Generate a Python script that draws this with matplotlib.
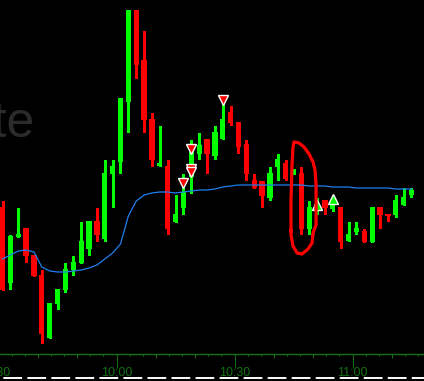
import matplotlib
matplotlib.use("Agg")
import matplotlib.pyplot as plt
import numpy as np

plt.rcParams['lines.scale_dashes'] = False

# 2-minute bars, time in minutes after 9:00
bar_start = 31
bar_step = 2

opens = [11.93, 11.17, 11.63, 11.72, 11.45, 11.25, 10.62, 10.96, 11.10, 11.30,
         11.37, 11.51, 11.79, 11.61, 12.26, 12.38, 12.98, 13.90, 13.40, 12.81,
         12.34, 12.34, 11.78, 11.92, 12.23, 12.46, 12.61, 12.44, 12.61, 12.88,
         12.78, 12.56, 12.20, 12.19, 12.02, 12.33, 12.37, 12.26, 12.27, 11.71,
         11.91, 12.00, 11.91, 11.93, 11.59, 11.68, 11.69, 11.58, 11.93, 11.86,
         11.85, 11.95, 12.05]
highs = [11.99, 11.65, 11.92, 11.72, 11.45, 11.30, 10.97, 11.11, 11.37, 11.44,
         11.78, 11.79, 11.92, 12.40, 12.40, 13.02, 13.90, 13.90, 13.69, 12.87,
         12.74, 12.40, 12.05, 12.26, 12.60, 12.67, 12.61, 12.74, 12.96, 12.94,
         12.78, 12.60, 12.26, 12.19, 12.33, 12.46, 12.40, 12.31, 12.33, 11.99,
         12.02, 12.00, 11.97, 11.93, 11.78, 11.78, 11.71, 11.93, 11.93, 11.86,
         12.05, 12.12, 12.12]
lows = [11.10, 11.11, 11.63, 11.38, 11.24, 10.57, 10.62, 10.91, 11.08, 11.25,
        11.37, 11.45, 11.59, 11.59, 11.93, 12.27, 12.68, 13.22, 12.68, 12.34,
        12.34, 11.66, 11.78, 11.86, 12.07, 12.41, 12.27, 12.41, 12.61, 12.75,
        12.47, 12.20, 12.12, 11.93, 12.00, 12.20, 12.20, 12.26, 11.66, 11.66,
        11.86, 11.86, 11.89, 11.52, 11.59, 11.66, 11.58, 11.58, 11.72, 11.79,
        11.83, 11.95, 12.03]
closes = [11.10, 11.64, 11.66, 11.44, 11.24, 10.66, 10.97, 11.11, 11.31, 11.38,
          11.59, 11.79, 11.65, 12.27, 12.34, 13.02, 13.90, 13.35, 12.80, 12.40,
          12.37, 11.71, 11.86, 12.08, 12.48, 12.55, 12.46, 12.68, 12.81, 12.77,
          12.53, 12.26, 12.12, 12.04, 12.27, 12.41, 12.21, 12.31, 11.71, 11.93,
          11.96, 11.92, 11.97, 11.58, 11.66, 11.72, 11.58, 11.93, 11.85, 11.84,
          12.00, 12.03, 12.10]
moving_avg = [11.41, 11.45, 11.49, 11.50, 11.48, 11.33, 11.29, 11.28, 11.28, 11.29,
              11.30, 11.32, 11.35, 11.41, 11.47, 11.56, 11.84, 11.99, 12.05, 12.07,
              12.08, 12.08, 12.07, 12.08, 12.09, 12.10, 12.10, 12.11, 12.13, 12.14,
              12.15, 12.15, 12.15, 12.15, 12.15, 12.15, 12.15, 12.15, 12.15, 12.14,
              12.14, 12.14, 12.13, 12.13, 12.13, 12.12, 12.12, 12.12, 12.12, 12.12,
              12.11, 12.11, 12.11]

# signal arrows: (time, price)
sell_times = [87, 79, 79, 79, 77]
sell_prices = [13.00, 12.51, 12.31, 12.28, 12.17]
buy_times = [111, 115]
buy_prices = [11.955, 12.015]

# hand drawn circle around the 10:43 drop
circle_t = [104.36, 104.36, 104.62, 104.87, 105.13, 106.40, 107.67, 108.95, 109.96,
            110.47, 110.73, 110.73, 109.96, 109.71, 108.69, 107.16, 105.89, 104.87,
            104.36, 104.36]
circle_p = [11.68, 12.00, 12.35, 12.53, 12.58, 12.57, 12.53, 12.46, 12.38,
            12.30, 12.15, 11.75, 11.67, 11.57, 11.51, 11.46, 11.47, 11.54,
            11.65, 11.70]

tick_times = [30, 60, 90, 120]
tick_labels = ['9:30', '10:00', '10:30', '11:00']

GREEN = '#00ff00'
RED = '#ff0000'
AXIS_GREEN = '#136d13'

fig = plt.figure(figsize=(4.24, 3.81), dpi=100, facecolor='black')
ax = fig.add_axes([0, 0, 1, 1], facecolor='black')
ax.set_xlim(30.36, 138.18)
ax.set_ylim(10.19, 14.00)
ax.axis('off')

o = np.array(opens)
h = np.array(highs)
l = np.array(lows)
c = np.array(closes)
t = bar_start + bar_step * np.arange(len(o))
cols = np.where(c >= o, GREEN, RED)

ax.vlines(t, l, h, colors=cols, lw=0.75, antialiased=False, zorder=2)
body = np.maximum(np.abs(c - o), 0.012)
ax.bar(t, body, bottom=np.minimum(o, c), width=1.34, color=cols,
       antialiased=False, zorder=3)

ax.plot(t, moving_avg, color='#1f7fef', lw=0.9, zorder=4)

ax.plot(sell_times, sell_prices, 'v', ms=7, mfc=RED, mec='white', mew=1.0,
        ls='none', zorder=5)
ax.plot(buy_times, buy_prices, '^', ms=7, mfc=GREEN, mec='white', mew=1.0,
        ls='none', zorder=5)

ax.plot(circle_t, circle_p, color=RED, lw=2.3, solid_capstyle='round',
        solid_joinstyle='round', zorder=6)

# time axis
ax.axhline(10.46, color=AXIS_GREEN, lw=1.0, zorder=2)
minor = np.arange(30, 140, 10 / 3)
for m in minor:
    mm = round(m, 2)
    if abs(mm % 30) < 0.01 or abs(mm % 30 - 30) < 0.01:
        continue
    length = 0.035 if (abs(mm % 10) < 0.01 or abs(mm % 10 - 10) < 0.01) else 0.02
    ax.vlines(mm, 10.46 - length, 10.46, color=AXIS_GREEN, lw=0.75, zorder=2)
ax.vlines(tick_times, 10.32, 10.46, color=AXIS_GREEN, lw=0.75, zorder=2)
for tt, lab in zip(tick_times, tick_labels):
    ax.text(tt, 10.335, lab, color=AXIS_GREEN, fontsize=9,
            family='Liberation Sans', ha='center', va='top')

ax.axhline(10.22, color='white', lw=1.4, ls=(14.9, (13.5, 3.8)), zorder=2)

# faint watermark
fig.text(34.5 / 424, 1 - 137 / 381, 'Quote', color='#2b2b2b', fontsize=36,
         family='Liberation Sans', ha='right', va='baseline', zorder=0)

fig.savefig('out.png', dpi=100, facecolor='black')
